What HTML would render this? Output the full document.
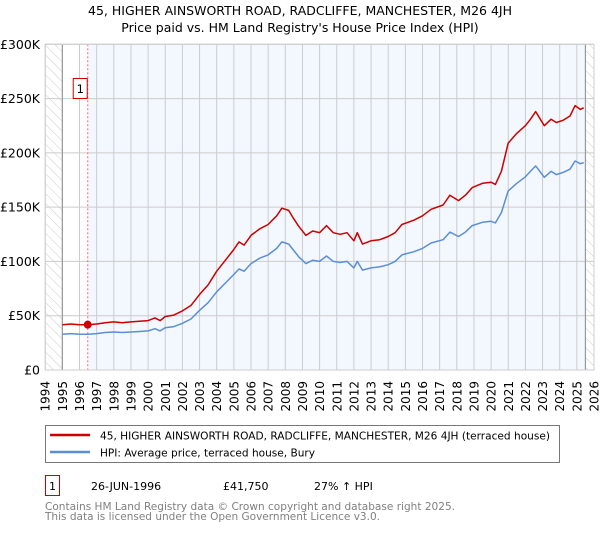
<!DOCTYPE html>
<html><head><meta charset="utf-8"><style>
body{margin:0;background:#fff;font-family:"Liberation Sans","DejaVu Sans",sans-serif}
svg text{font-family:"DejaVu Sans","Liberation Sans",sans-serif}
</style></head><body>
<svg id="chart" width="600" height="530" viewBox="0 0 600 530" xmlns="http://www.w3.org/2000/svg">
<defs>
<pattern id="hatch" width="7" height="7" patternUnits="userSpaceOnUse" patternTransform="rotate(-45)">
<line x1="0" y1="0" x2="0" y2="7" stroke="#ccc" stroke-width="1"/>
</pattern>
</defs>
<text x="300" y="15" text-anchor="middle" font-size="12.5" fill="#000">45, HIGHER AINSWORTH ROAD, RADCLIFFE, MANCHESTER, M26 4JH</text>
<text x="300" y="32" text-anchor="middle" font-size="12.5" fill="#000">Price paid vs. HM Land Registry's House Price Index (HPI)</text>
<g id="plot"></g>
<g id="legend">
<rect x="45.5" y="425.5" width="514" height="37" fill="#fff" stroke="#777"/>
<line x1="50" y1="435" x2="90" y2="435" stroke="#cc0000" stroke-width="2.5"/>
<text x="100" y="439.5" font-size="11" textLength="450" lengthAdjust="spacingAndGlyphs">45, HIGHER AINSWORTH ROAD, RADCLIFFE, MANCHESTER, M26 4JH (terraced house)</text>
<line x1="50" y1="452" x2="90" y2="452" stroke="#5b8fd4" stroke-width="2.5"/>
<text x="100" y="456.5" font-size="11" textLength="215" lengthAdjust="spacingAndGlyphs">HPI: Average price, terraced house, Bury</text>
</g>
<g>
<rect x="45.5" y="475.5" width="14" height="20" fill="#fff" stroke="#cc0000"/>
<text x="52.5" y="490" text-anchor="middle" font-size="11">1</text>
<text x="91" y="490" font-size="11">26-JUN-1996</text>
<text x="223" y="490" font-size="11">£41,750</text>
<text x="314" y="490" font-size="11">27% ↑ HPI</text>
</g>
<text x="45" y="510" font-size="11" fill="#808080" textLength="410" lengthAdjust="spacingAndGlyphs">Contains HM Land Registry data © Crown copyright and database right 2025.</text>
<text x="45" y="520" font-size="11" fill="#808080" textLength="335" lengthAdjust="spacingAndGlyphs">This data is licensed under the Open Government Licence v3.0.</text>
</svg>
<script>
const dates=[1995.0,1995.5,1996.0,1996.5,1997.0,1997.5,1998.0,1998.5,1999.0,1999.5,2000.0,2000.4,2000.7,2001.0,2001.5,2002.0,2002.5,2003.0,2003.5,2004.0,2004.5,2005.0,2005.3,2005.6,2006.0,2006.5,2007.0,2007.5,2007.8,2008.2,2008.5,2008.8,2009.2,2009.6,2010.0,2010.4,2010.8,2011.2,2011.6,2012.0,2012.2,2012.5,2013.0,2013.5,2014.0,2014.4,2014.8,2015.5,2016.0,2016.5,2017.2,2017.6,2018.1,2018.5,2018.9,2019.5,2020.0,2020.25,2020.6,2021.0,2021.5,2022.0,2022.3,2022.6,2023.1,2023.5,2023.8,2024.2,2024.6,2024.9,2025.2,2025.4];
const hpiValues=[33,33.5,33,33,33.5,34.5,35,34.5,35,35.5,36,38,36,39,40,43,47,55,62,72,80,88,93,91,98,103,106,112,118,116,110,104,98,101,100,105,100,99,100,94,100,92,94,95,97,100,106,109,112,117,120,127,123,127,133,136,137,135.5,145,165,172,178,183,188,177.5,183,180,182,185,192.5,190,191];
const priceValues=[41.7,42.4,41.7,41.7,42.4,43.6,44.3,43.6,44.3,44.9,45.5,48,45.5,49.3,50.6,54.4,59.5,69.6,78.4,91,101,111,118,115,124,130,134,142,149,147,139,132,124,128,126.5,133,126.5,125,126.5,119,126.5,116,119,120,123,126.5,134,138,142,148,152,161,156,161,168,172,173,171,183,209,218,225,231,238,225,231,228,230,234,243.5,240,241.6];
const yTicks=[0,50,100,150,200,250,300];
const yTickLabels=["£0","£50K","£100K","£150K","£200K","£250K","£300K"];
const xTicks=[1994,1995,1996,1997,1998,1999,2000,2001,2002,2003,2004,2005,2006,2007,2008,2009,2010,2011,2012,2013,2014,2015,2016,2017,2018,2019,2020,2021,2022,2023,2024,2025,2026];
const saleDate=[1996.48];
const saleValue=[41.75];
const dataStart=[1995.0], dataEnd=[2025.5];

const X0=45.2,X1=594,Y0=370,Y1=44.3;
const xs=y=>X0+(y-1994)*(X1-X0)/32;
const ys=v=>Y0-v*(Y0-Y1)/300;
const NS="http://www.w3.org/2000/svg";
const g=document.getElementById('plot');
function mk(tag,attrs,parent){const e=document.createElementNS(NS,tag);for(const k in attrs)e.setAttribute(k,attrs[k]);(parent||g).appendChild(e);return e;}

let el;
el=mk('rect',{x:X0,y:Y1,width:X1-X0,height:Y0-Y1,fill:'#fff'});


el=mk('rect',{x:xs(saleDate[0]),y:Y1,width:xs(dataEnd[0])-xs(saleDate[0]),height:Y0-Y1,fill:'#f3f7fe'});


el=mk('rect',{x:X0,y:Y1,width:xs(dataStart[0])-X0,height:Y0-Y1,fill:'url(#hatch)'});


el=mk('rect',{x:xs(dataEnd[0]),y:Y1,width:X1-xs(dataEnd[0]),height:Y0-Y1,fill:'url(#hatch)'});



xTicks.forEach((t,i)=>{
  const x=xs(t);
  el=mk('line',{x1:x,y1:Y1,x2:x,y2:Y0,stroke:'#ccc','stroke-width':1});
  
  
  el=mk('text',{x:0,y:0,'font-size':12,'text-anchor':'end',transform:`translate(${x+4.5},381) rotate(-90)`});
  el.textContent=String(t);
  
  
});
yTicks.forEach((t,i)=>{
  const y=ys(t);
  el=mk('line',{x1:X0,y1:y,x2:X1,y2:y,stroke:'#ccc','stroke-width':1});
  
  
  el=mk('text',{x:40,y:y+4.5,'font-size':12.5,'text-anchor':'end'});
  el.textContent=yTickLabels[i];
  
  
});
el=mk('line',{x1:xs(dataStart[0]),y1:Y1,x2:xs(dataStart[0]),y2:Y0,stroke:'#999','stroke-width':1.2});


el=mk('line',{x1:xs(dataEnd[0]),y1:Y1,x2:xs(dataEnd[0]),y2:Y0,stroke:'#999','stroke-width':1.2});


el=mk('line',{x1:xs(saleDate[0]),y1:Y1,x2:xs(saleDate[0]),y2:Y0,stroke:'#f07070','stroke-width':1,'stroke-dasharray':'2,2'});



const pts=v=>dates.map((d,i)=>xs(d).toFixed(1)+','+ys(v[i]).toFixed(1)).join(' ');
el=mk('polyline',{points:pts(hpiValues),fill:'none',stroke:'#5b8fd4','stroke-width':1.5,'stroke-linejoin':'round'});


el=mk('polyline',{points:pts(priceValues),fill:'none',stroke:'#cc0000','stroke-width':1.5,'stroke-linejoin':'round'});


el=mk('circle',{cx:xs(saleDate[0]),cy:ys(saleValue[0]),r:4,fill:'#cc0000'});


el=mk('rect',{x:xs(saleDate[0])-14.5,y:78.5,width:14,height:20,fill:'#fff',stroke:'#cc0000'});


el=mk('text',{x:xs(saleDate[0])-7.5,y:93,'font-size':11.5,'text-anchor':'middle'});
el.textContent='1';


el=mk('rect',{x:X0,y:Y1,width:X1-X0,height:Y0-Y1,fill:'none',stroke:'#ccc'});


</script>
</body></html>
